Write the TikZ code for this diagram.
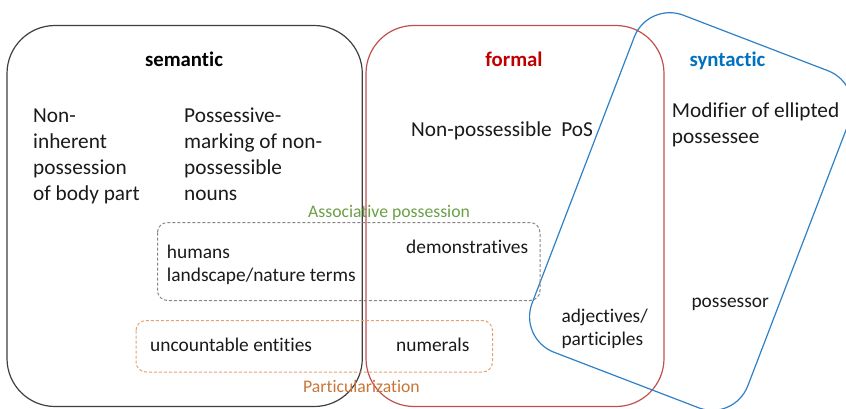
\documentclass[tikz,border=0pt]{standalone}
\usepackage{fontspec}
\setmainfont{Carlito}[Ligatures=NoCommon]
\definecolor{semc}{HTML}{3F3F3F}
\definecolor{formc}{HTML}{C0504D}
\definecolor{sync}{HTML}{2F80C4}
\definecolor{formt}{HTML}{C00000}
\definecolor{synt}{HTML}{0070C0}
\definecolor{assoc}{HTML}{6A9F45}
\definecolor{partc}{HTML}{C97538}
\definecolor{partl}{HTML}{E2A274}
\definecolor{assl}{HTML}{858585}
\definecolor{txt}{HTML}{1A1A1A}
\begin{document}
\begin{tikzpicture}[x=1pt,y=-1pt,
  box/.style={draw, line width=1.2pt, rounded corners=48pt},
  dbox/.style={draw, line width=1pt, dash pattern=on 3pt off 2pt, rounded corners=10pt},
  big/.style={font=\fontsize{21.3}{26}\selectfont, text=txt, align=left, inner sep=0pt, anchor=base west},
  small/.style={font=\fontsize{19.4}{23.6}\selectfont, text=txt, align=left, inner sep=0pt, anchor=base west},
  title/.style={font=\fontsize{20.8}{25}\selectfont\bfseries, inner sep=0pt, anchor=base},
  lab/.style={font=\fontsize{17.7}{21}\selectfont, inner sep=0pt, anchor=base west}]
\clip (0,0) rectangle (846,408);
% main sets
\draw[box, draw=semc] (7,25.5) rectangle (362.3,406.5);
\draw[box, draw=formc] (366,25.5) rectangle (664,406.5);
\node[draw=sync, line width=1.2pt, rounded corners=38pt, rotate=-21,
      minimum width=231pt, minimum height=361pt, inner sep=0pt, outer sep=0pt]
      (synbox) at (691,211.5) {};
% dashed groupings
\draw[dbox, draw=assl] (157.5,222.5) rectangle (540,300.5);
\draw[dbox, draw=partl] (136,320.5) rectangle (492.5,372);
% titles
\node[title, text=black] (tsem) at (184,66.5) {semantic};
\node[title, text=formt] (tform) at (514,66.5) {formal};
\node[title, text=synt] (tsyn) at (727.5,66.5) {syntactic};
% texts (base anchor = baseline of the last line)
\node[big] (nonin) at (33,200) {Non-\\inherent\\possession\\of body part};
\node[big] (posmark) at (184,200) {Possessive-\\marking of non-\\possessible\\nouns};
\node[big] (nonpos) at (411,136) {Non-possessible\ \ PoS};
\node[big] (modif) at (671.7,143) {Modifier of ellipted\\possessee};
\node[small] (humans) at (166.7,281.6) {humans\\landscape/nature terms};
\node[small] (demo) at (406,253.3) {demonstratives};
\node[small] (uncount) at (150,351.5) {uncountable entities};
\node[small] (numer) at (396,351) {numerals};
\node[small] (adj) at (561.3,345.9) {adjectives/\\participles};
\node[small] (possr) at (691.3,307.3) {possessor};
\node[lab, text=assoc] (lassoc) at (308,217.3) {Associative possession};
\node[lab, text=partc] (lpart) at (303,392.7) {Particularization};
\end{tikzpicture}
\end{document}
